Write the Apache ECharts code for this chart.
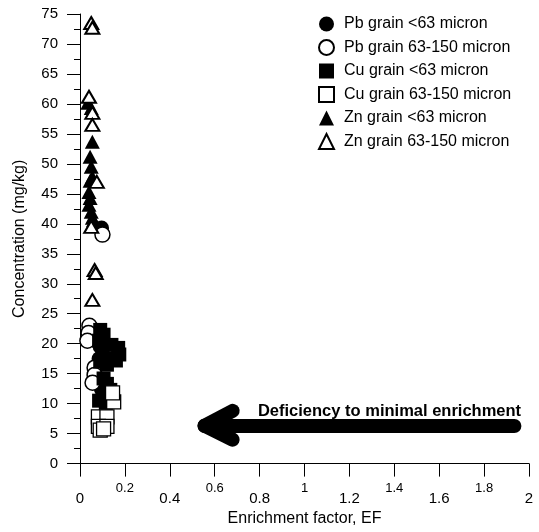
<!DOCTYPE html>
<html>
<head>
<meta charset="utf-8">
<script src="https://cdn.jsdelivr.net/npm/echarts@6/dist/echarts.min.js"></script>
<style>
  html, body { margin: 0; padding: 0; background: #fff; }
  #chart { width: 539px; height: 532px; }
</style>
</head>
<body>
<div id="chart"></div>
<script>
// series names as in the legend
var seriesNames = [
    'Pb grain <63 micron',
    'Pb grain 63-150 micron',
    'Cu grain <63 micron',
    'Cu grain 63-150 micron',
    'Zn grain <63 micron',
    'Zn grain 63-150 micron'
];

// [EF, concentration mg/kg]
var pbFine = [[0.096, 39.3], [0.09, 19.5], [0.085, 17.5], [0.095, 12.5]];
var pbCoarse = [[0.10, 38.2], [0.042, 23.0], [0.038, 21.8], [0.033, 20.5], [0.065, 16.0], [0.065, 14.8], [0.056, 13.5]];
var cuFine = [[0.09, 22.3], [0.105, 21.5], [0.085, 20.5], [0.10, 20.0], [0.14, 19.8], [0.17, 19.3], [0.175, 18.2],
    [0.16, 17.2], [0.13, 17.5], [0.10, 18.5], [0.09, 17.0], [0.12, 16.5], [0.105, 14.2], [0.12, 13.3],
    [0.135, 12.3], [0.125, 11.5], [0.10, 11.0], [0.085, 10.5], [0.115, 10.0]];
var cuCoarse = [[0.15, 10.3], [0.145, 11.8], [0.082, 7.8], [0.12, 7.8], [0.082, 6.2], [0.12, 6.2], [0.09, 5.6], [0.105, 5.8]];
var znFine = [[0.035, 60.2], [0.05, 59.3], [0.055, 53.7], [0.045, 51.2], [0.05, 49.5], [0.055, 47.8], [0.045, 47.2],
    [0.04, 45.3], [0.045, 44.3], [0.04, 43.2], [0.05, 42.0], [0.055, 41.0], [0.06, 40.6]];
var znCoarse = [[0.05, 73.5], [0.055, 72.7], [0.04, 61.2], [0.055, 58.5], [0.055, 56.5], [0.075, 47.0],
    [0.05, 39.5], [0.065, 32.3], [0.07, 31.8], [0.055, 27.3]];

// arrow annotation (data coords)
var arrowTip = [0.555, 6.33];
var arrowTail = [1.935, 6.33];
var arrowWingUp = [0.68, 8.8];
var arrowWingDown = [0.68, 4.0];
var noteText = 'Deficiency to minimal enrichment';
var notePos = [1.967, 8.67];

var chart = echarts.init(document.getElementById('chart'));

var font = 'Liberation Sans, Arial, sans-serif';

function pts(name, data, symbol, size, filled, bw) {
    return {
        name: name,
        type: 'scatter',
        data: data,
        symbol: symbol,
        symbolSize: size,
        itemStyle: {
            color: filled ? '#000' : '#fff',
            borderColor: '#000',
            borderWidth: bw,
            opacity: 1
        }
    };
}

var option = {
    animation: false,
    backgroundColor: '#fff',
    textStyle: { fontFamily: font },
    grid: { left: 80, right: 10, top: 14, bottom: 68 },
    legend: {
        orient: 'vertical',
        left: 313,
        top: 11,
        itemWidth: 15,
        itemHeight: 15,
        itemGap: 7,
        data: seriesNames,
        formatter: '{t|{name}}',
        textStyle: {
            color: '#000',
            rich: { t: { fontSize: 16, lineHeight: 15, fontFamily: font, color: '#000', padding: [0, 0, 0, 5] } }
        }
    },
    xAxis: {
        type: 'value',
        min: 0,
        max: 2,
        interval: 0.2,
        name: 'Enrichment factor, EF',
        nameLocation: 'middle',
        nameGap: 41,
        nameTextStyle: { fontSize: 16, color: '#000', fontFamily: font },
        splitLine: { show: false },
        axisLine: { lineStyle: { color: '#000', width: 1 } },
        axisTick: { length: 13, lineStyle: { color: '#000' } },
        axisLabel: {
            margin: 18,
            formatter: function (v) {
                var k = Math.round(v * 5);
                var s = String(Math.round(v * 10) / 10);
                return k % 2 ? '{o|' + s + '}' : '{e|' + s + '}';
            },
            rich: {
                o: { fontSize: 13, lineHeight: 14, color: '#000', fontFamily: font },
                e: { fontSize: 15, lineHeight: 15, color: '#000', fontFamily: font, padding: [19, 0, 0, 0] }
            }
        }
    },
    yAxis: {
        type: 'value',
        min: 0,
        max: 75,
        interval: 5,
        name: 'Concentration (mg/kg)',
        nameLocation: 'middle',
        nameGap: 52,
        nameTextStyle: { fontSize: 16, color: '#000', fontFamily: font },
        splitLine: { show: false },
        axisLine: { lineStyle: { color: '#000', width: 1 } },
        axisTick: { length: 13, lineStyle: { color: '#000' } },
        minorTick: { show: true, splitNumber: 2, length: 6, lineStyle: { color: '#000' } },
        axisLabel: { margin: 22, fontSize: 15, color: '#000', fontFamily: font }
    },
    series: [
        pts(seriesNames[0], pbFine, 'circle', 15, true, 0),
        pts(seriesNames[1], pbCoarse, 'circle', 15, false, 1.5),
        pts(seriesNames[2], cuFine, 'rect', 14, true, 0),
        pts(seriesNames[3], cuCoarse, 'rect', 14, false, 1.3),
        pts(seriesNames[4], znFine, 'triangle', [15, 14], true, 0),
        pts(seriesNames[5], znCoarse, 'triangle', [14, 12], false, 2),
        {
            name: 'annot',
            type: 'scatter',
            data: [],
            clip: false,
            silent: true,
            markLine: {
                silent: true,
                symbol: ['none', 'none'],
                label: { show: false },
                lineStyle: { color: '#000', width: 14, type: 'solid', cap: 'round', join: 'round' },
                data: [
                    [{ coord: arrowTail }, { coord: arrowTip }],
                    [{ coord: arrowTip }, { coord: arrowWingUp }],
                    [{ coord: arrowTip }, { coord: arrowWingDown }],
                    [{ coord: [2, 0], lineStyle: { width: 1, type: [6, 5], color: '#555', cap: 'butt' } },
                     { coord: [2, 77.4] }]
                ]
            },
            markPoint: {
                silent: true,
                symbol: 'circle',
                symbolSize: 1,
                itemStyle: { color: 'rgba(0,0,0,0)' },
                label: {
                    show: true,
                    position: 'left',
                    distance: 0,
                    formatter: noteText,
                    fontSize: 16.5,
                    fontWeight: 'bold',
                    color: '#000',
                    fontFamily: font
                },
                data: [{ coord: notePos }]
            }
        }
    ]
};

chart.setOption(option);
</script>
</body>
</html>
